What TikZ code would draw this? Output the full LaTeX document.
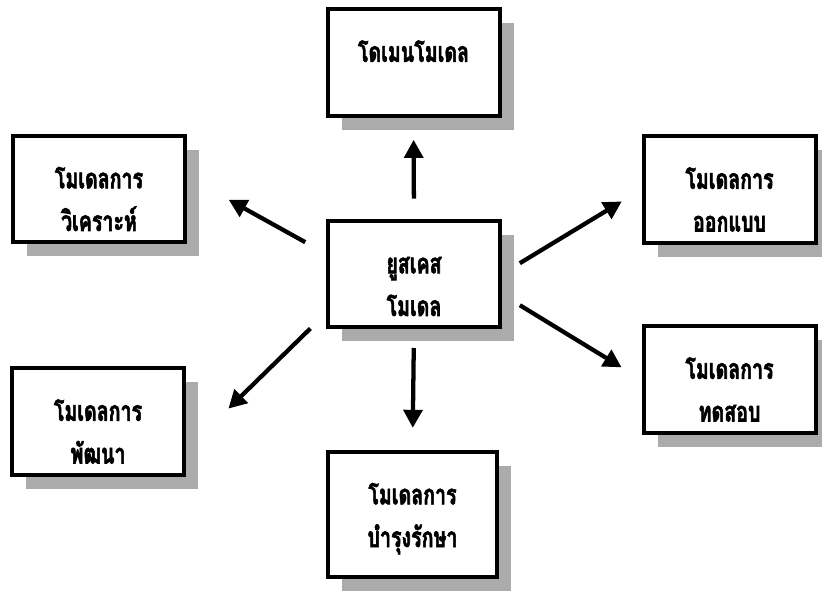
\documentclass[tikz,border=0pt]{standalone}
\usepackage{fontspec}
\newfontfamily\thaifont[Script=Thai,FakeStretch=0.7,FakeBold=2]{Loma}
\usetikzlibrary{arrows.meta}
\usetikzlibrary{shadows}

% two lines of a box, last baseline as reference
\newcommand{\twolines}[2]{\begin{tabular}[b]{@{}c@{}}#1\\#2\end{tabular}}

\tikzset{
  model/.style={draw, line width=3pt, fill=white,
    minimum width=129pt, minimum height=80pt, inner sep=0pt,
    font=\thaifont\bfseries\fontsize{21}{32}\selectfont,
    text height=63pt, text depth=0pt,
    drop shadow={shadow xshift=10.5pt, shadow yshift=-10.5pt, fill=black!33, opacity=1}},
  flow/.style={line width=3.2pt, -{Triangle[length=13.5pt,width=14pt]}}
}

\begin{document}
\begin{tikzpicture}[x=0.75pt,y=0.75pt,yscale=-1,xscale=1]
\path[use as bounding box] (0,0) rectangle (822,591);

% Boxes
\node[model] (use) at (414,274) {\twolines{ยูสเคส}{โมเดล}};
\node[model] (dom) at (413.5,62.5) {\twolines{โดเมนโมเดล}{\mbox{}}};
\node[model] (ana) at (99,189) {\twolines{โมเดลการ}{วิเคราะห์}};
\node[model] (des) at (729.5,189.5) {\twolines{โมเดลการ}{ออกแบบ}};
\node[model] (dev) at (98,421.5) {\twolines{โมเดลการ}{พัฒนา}};
\node[model] (tst) at (729.5,379.5) {\twolines{โมเดลการ}{ทดสอบ}};
\node[model, minimum width=127pt, minimum height=94pt,
  text height=48.8pt] (mnt) at (412.5,514.5) {\twolines{โมเดลการ}{บำรุงรักษา}};

% Arrows
\draw[flow, shorten <=15pt, shorten >=16.5pt] (use.north) -- (dom.south);
\draw[flow, shorten <=14pt, shorten >=16.5pt] (use.south) -- (mnt.north);
\draw[flow, shorten <=17.8pt, shorten >=35.8pt] (use.167) -- (ana.8);
\draw[flow, shorten <=16.4pt, shorten >=44.5pt] (use.204) -- (dev.342);
\draw[flow, shorten <=15.6pt, shorten >=17.3pt] (use.east) -- (des.west);
\draw[flow, shorten <=15.7pt, shorten >=17.5pt] (use.347) -- (tst.west);

\end{tikzpicture}
\end{document}
